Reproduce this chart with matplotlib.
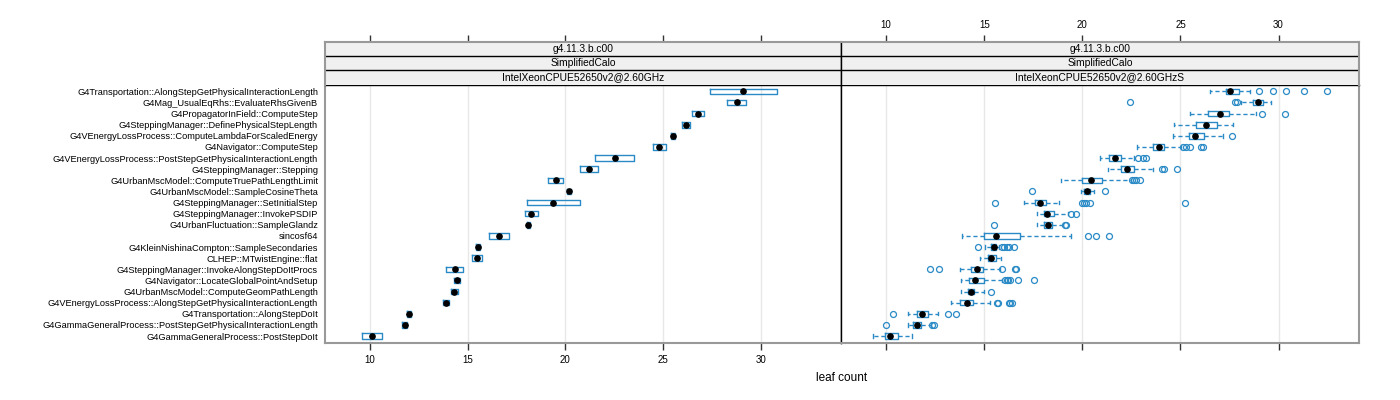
import matplotlib.pyplot as plt

plt.rcParams['font.family'] = ['Liberation Sans', 'DejaVu Sans']

funcs = [
    "G4Transportation::AlongStepGetPhysicalInteractionLength",
    "G4Mag_UsualEqRhs::EvaluateRhsGivenB",
    "G4PropagatorInField::ComputeStep",
    "G4SteppingManager::DefinePhysicalStepLength",
    "G4VEnergyLossProcess::ComputeLambdaForScaledEnergy",
    "G4Navigator::ComputeStep",
    "G4VEnergyLossProcess::PostStepGetPhysicalInteractionLength",
    "G4SteppingManager::Stepping",
    "G4UrbanMscModel::ComputeTruePathLengthLimit",
    "G4UrbanMscModel::SampleCosineTheta",
    "G4SteppingManager::SetInitialStep",
    "G4SteppingManager::InvokePSDIP",
    "G4UrbanFluctuation::SampleGlandz",
    "sincosf64",
    "G4KleinNishinaCompton::SampleSecondaries",
    "CLHEP::MTwistEngine::flat",
    "G4SteppingManager::InvokeAlongStepDoItProcs",
    "G4Navigator::LocateGlobalPointAndSetup",
    "G4UrbanMscModel::ComputeGeomPathLength",
    "G4VEnergyLossProcess::AlongStepGetPhysicalInteractionLength",
    "G4Transportation::AlongStepDoIt",
    "G4GammaGeneralProcess::PostStepGetPhysicalInteractionLength",
    "G4GammaGeneralProcess::PostStepDoIt",
]

strips_left = ["g4.11.3.b.c00", "SimplifiedCalo", "IntelXeonCPUE52650v2@2.60GHz"]
strips_right = ["g4.11.3.b.c00", "SimplifiedCalo", "IntelXeonCPUE52650v2@2.60GHzS"]

# left panel: quartiles and median
l_q1 = [27.41, 28.27, 26.50, 25.99, 25.40, 24.46, 21.51, 20.73, 19.13, 20.08, 18.01, 17.93,
        18.02, 16.11, 15.40, 15.22, 13.89, 14.32, 14.15, 13.74, 11.92, 11.64, 9.59]
l_med = [29.10, 28.76, 26.79, 26.17, 25.51, 24.80, 22.52, 21.21, 19.51, 20.19, 19.39, 18.25,
         18.11, 16.60, 15.51, 15.46, 14.34, 14.46, 14.32, 13.88, 12.02, 11.77, 10.09]
l_q3 = [30.82, 29.25, 27.09, 26.38, 25.62, 25.17, 23.52, 21.67, 19.88, 20.30, 20.77, 18.59,
        18.20, 17.11, 15.62, 15.71, 14.78, 14.60, 14.49, 14.02, 12.12, 11.90, 10.63]

# right panel: whiskers, quartiles, median, outliers
r_wlo = [26.50, 28.10, 25.49, 24.66, 24.64, 22.81, 20.88, 21.29, 18.91, 19.91, 17.01, 17.67,
         17.67, 13.86, 15.05, 14.76, 13.76, 13.84, 13.83, 13.30, 11.09, 11.09, 9.35]
r_q1 = [27.31, 28.69, 26.38, 25.77, 25.43, 23.62, 21.38, 21.97, 19.97, 20.07, 17.60, 18.03,
        18.04, 14.97, 15.34, 15.19, 14.34, 14.22, 14.15, 13.79, 11.58, 11.39, 9.95]
r_med = [27.55, 28.93, 27.02, 26.29, 25.73, 23.89, 21.65, 22.28, 20.44, 20.26, 17.86, 18.21,
         18.23, 15.60, 15.48, 15.37, 14.61, 14.52, 14.30, 14.10, 11.85, 11.58, 10.22]
r_q3 = [27.98, 29.23, 27.45, 26.84, 26.22, 24.18, 21.97, 22.62, 20.99, 20.41, 18.13, 18.57,
        18.44, 16.80, 15.61, 15.61, 14.95, 14.97, 14.49, 14.44, 12.11, 11.80, 10.58]
r_whi = [28.54, 29.59, 28.84, 27.70, 27.16, 25.03, 22.65, 23.62, 22.48, 20.61, 18.83, 19.25,
         19.00, 19.44, 15.76, 15.83, 15.80, 15.90, 14.98, 15.28, 12.65, 12.28, 11.33]
r_out = [
    [29.01, 29.71, 30.36, 31.31, 32.45],
    [22.45, 27.76, 27.86],
    [29.17, 30.34],
    [],
    [27.65],
    [25.14, 25.29, 25.48, 26.05, 26.16],
    [22.86, 23.08, 23.23],
    [24.05, 24.18, 24.81],
    [22.53, 22.64, 22.74, 22.93],
    [17.45, 21.14],
    [15.56, 20.00, 20.08, 20.17, 20.39, 25.22],
    [19.42, 19.67],
    [15.49, 19.12, 19.17],
    [20.31, 20.68, 21.34],
    [14.66, 15.92, 16.02, 16.14, 16.28, 16.51],
    [],
    [12.24, 12.70, 15.92, 16.56, 16.60],
    [16.07, 16.14, 16.22, 16.33, 16.73, 17.53],
    [15.36],
    [15.66, 15.71, 16.24, 16.33, 16.39],
    [10.37, 13.13, 13.54],
    [10.00, 12.36, 12.43],
    [],
]

xticks = [10, 15, 20, 25, 30]
blue = '#2a8ac6'
gray = '#999999'
n = len(funcs)
pos = list(range(1, n + 1))

fig = plt.figure(figsize=(14, 4), dpi=100)
W, H = 1400.0, 400.0
px0, pmid, px1 = 325 / W, 841 / W, 1359 / W
py0, py1, sy1 = 1 - 342.7 / H, 1 - 84.7 / H, 1 - 42 / H

ax_l = fig.add_axes([px0, py0, pmid - px0, py1 - py0])
ax_r = fig.add_axes([pmid, py0, px1 - pmid, py1 - py0])
st_l = fig.add_axes([px0, py1, pmid - px0, sy1 - py1])
st_r = fig.add_axes([pmid, py1, px1 - pmid, sy1 - py1])

stats_l = [dict(med=m, q1=a, q3=b, whislo=a, whishi=b, fliers=[])
           for a, m, b in zip(l_q1, l_med, l_q3)]
stats_r = [dict(med=m, q1=a, q3=b, whislo=lo, whishi=hi, fliers=f)
           for lo, a, m, b, hi, f in zip(r_wlo, r_q1, r_med, r_q3, r_whi, r_out)]

box_kw = dict(positions=pos, widths=0.5, orientation='horizontal',
              boxprops=dict(color=blue, lw=1.0),
              medianprops=dict(visible=False),
              whiskerprops=dict(color=blue, lw=1.0, ls=(0, (3, 2))),
              capprops=dict(color=blue, lw=1.0),
              flierprops=dict(marker='o', markerfacecolor='none', markeredgecolor=blue,
                              markersize=4.3, markeredgewidth=0.9))

ax_l.bxp(stats_l, showcaps=False, showfliers=False, **box_kw)
ax_r.bxp(stats_r, showcaps=True, capwidths=0.3, **box_kw)
ax_l.plot(l_med, pos, 'o', color='black', markersize=3.8, zorder=5)
ax_r.plot(r_med, pos, 'o', color='black', markersize=3.8, zorder=5)

for ax in (ax_l, ax_r):
    ax.set_xlim(7.7, 34.1)
    ax.set_ylim(n + 0.6, 0.4)
    ax.set_xticks(xticks)
    for x in xticks:
        ax.axvline(x, color='#e8e8e8', lw=1, zorder=0)
    ax.tick_params(axis='x', direction='out', length=5, width=1, color='#333333',
                   labelsize=7, pad=4)
    for s in ax.spines.values():
        s.set_color(gray)
        s.set_linewidth(1.5)
    ax.spines['top'].set_color('black')
    ax.spines['top'].set_linewidth(1)

ax_l.set_yticks(pos)
ax_l.set_yticklabels(funcs, fontsize=6.7)
ax_l.tick_params(axis='y', length=0, pad=5)
ax_l.spines['right'].set_color('black')
ax_l.spines['right'].set_linewidth(1)
ax_r.set_yticks([])
ax_r.spines['left'].set_color('black')
ax_r.spines['left'].set_linewidth(1)
ax_r.tick_params(axis='x', labelbottom=False)
fig.text((px0 + px1) / 2, 1 - 378 / H, 'leaf count', ha='center', va='center', fontsize=8.5)

for st, labels, inner in ((st_l, strips_left, 'right'), (st_r, strips_right, 'left')):
    st.set_facecolor('#f0f0f0')
    st.set_xlim(7.7, 34.1)
    st.set_ylim(0, 3)
    st.set_yticks([])
    st.set_xticks(xticks)
    st.tick_params(axis='x', top=True, bottom=False, labelbottom=False, direction='out',
                   length=5, width=1, color='#333333', labelsize=7, pad=4)
    for k, lab in enumerate(labels):
        st.text(0.5, (2.5 - k) / 3, lab, transform=st.transAxes, ha='center', va='center',
                fontsize=7.4)
    for yy in (1, 2):
        st.axhline(yy, color='black', lw=1)
    for s in st.spines.values():
        s.set_color(gray)
        s.set_linewidth(1.5)
    st.spines['bottom'].set_visible(False)
    st.spines[inner].set_color('black')
    st.spines[inner].set_linewidth(1)

st_l.tick_params(axis='x', labeltop=False)
st_r.tick_params(axis='x', labeltop=True)

fig.savefig('out.png', dpi=100)
